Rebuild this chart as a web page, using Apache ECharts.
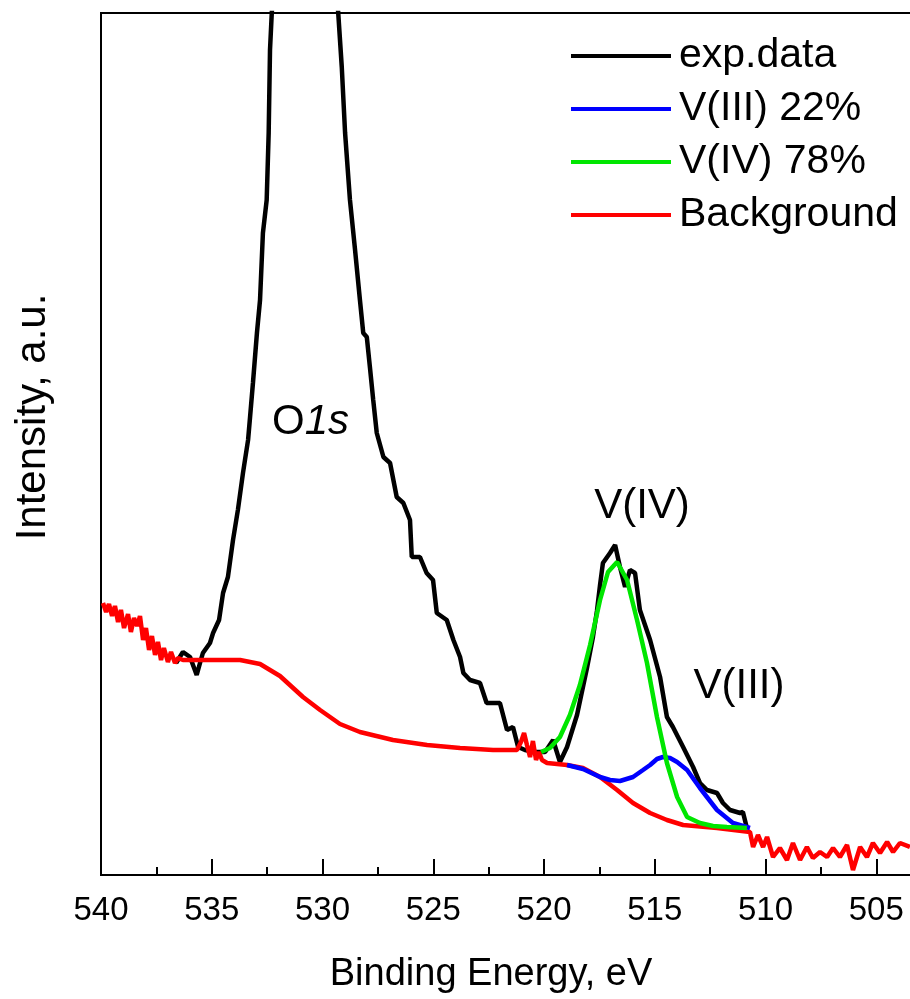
<!DOCTYPE html>
<html>
<head>
<meta charset="utf-8">
<title>V 2p / O 1s XPS</title>
<script src="https://cdn.jsdelivr.net/npm/echarts@6/dist/echarts.min.js"></script>
<style>
  html, body { margin: 0; padding: 0; background: #fff; }
  #chart { width: 910px; height: 999px; }
</style>
</head>
<body>
<div id="chart"></div>
<script>
// [binding energy eV, intensity a.u.]
const expData = [
  [536.61, 212], [536.30, 223], [535.98, 218], [535.68, 200], [535.53, 212], [535.40, 222],
  [535.08, 232], [534.94, 242], [534.67, 255], [534.49, 282], [534.27, 298], [534.04, 335],
  [533.82, 365], [533.59, 402], [533.50, 415], [533.36, 435], [533.27, 458], [533.14, 492],
  [532.96, 542], [532.82, 575], [532.69, 642], [532.52, 675], [532.43, 742], [532.37, 825],
  [532.29, 862], [532.01, 960], [531.47, 1040], [530.79, 1080], [530.11, 1040], [529.57, 950],
  [529.29, 862], [529.13, 808], [528.98, 742], [528.76, 675], [528.53, 625], [528.31, 575],
  [528.16, 542], [528.00, 538], [527.86, 508], [527.71, 475], [527.55, 442], [527.25, 418],
  [526.95, 412], [526.65, 378], [526.35, 372], [526.05, 355], [525.97, 318], [525.60, 318],
  [525.30, 302], [525.01, 295], [524.84, 262], [524.39, 255], [524.09, 235], [523.79, 218],
  [523.64, 202], [523.34, 195], [522.89, 192], [522.59, 172], [522.30, 172], [521.99, 172],
  [521.67, 145], [521.40, 148], [521.17, 128], [520.86, 125], [520.41, 123], [519.95, 123],
  [519.59, 135], [519.28, 113], [518.96, 128], [518.51, 160], [518.06, 207], [517.79, 238],
  [517.61, 264], [517.47, 290], [517.34, 312], [517.02, 322], [516.79, 330], [516.57, 308],
  [516.34, 288], [516.12, 305], [515.89, 302], [515.67, 265], [515.21, 235], [514.76, 198],
  [514.45, 158], [514.18, 148], [513.72, 128], [513.27, 108], [512.96, 92], [512.64, 85],
  [512.19, 82], [511.92, 72], [511.60, 65], [511.15, 62], [511.02, 63], [510.84, 47]
];

const backgroundData = [
  [539.91, 272], [539.77, 263], [539.64, 271], [539.50, 259], [539.37, 269], [539.23, 253],
  [539.10, 265], [538.96, 247], [538.78, 261], [538.65, 243], [538.51, 257], [538.37, 249],
  [538.24, 259], [538.10, 235], [537.97, 247], [537.83, 225], [537.70, 239], [537.56, 220],
  [537.43, 233], [537.29, 215], [537.16, 227], [536.98, 213], [536.84, 223], [536.66, 212],
  [536.52, 217], [536.30, 215], [535.53, 215], [534.63, 215], [533.72, 215], [532.82, 211],
  [531.92, 199], [530.88, 178], [530.11, 165], [529.21, 151], [528.31, 143], [526.82, 135],
  [525.28, 130], [523.79, 127], [522.30, 125], [521.22, 125], [521.04, 133], [520.90, 142],
  [520.77, 130], [520.63, 118], [520.50, 134], [520.36, 115], [520.23, 123], [520.09, 115],
  [519.86, 112], [518.96, 110], [518.24, 107], [517.47, 98], [516.70, 85], [515.98, 72],
  [515.21, 62], [514.45, 55], [513.72, 50], [512.19, 47], [510.70, 43], [510.56, 28],
  [510.34, 40], [510.11, 28], [509.93, 38], [509.66, 18], [509.35, 27], [509.03, 15],
  [508.76, 32], [508.44, 15], [508.13, 28], [507.86, 17], [507.54, 23], [507.22, 18],
  [506.95, 27], [506.64, 18], [506.32, 30], [506.05, 5], [505.73, 28], [505.42, 18],
  [505.15, 32], [504.83, 22], [504.51, 33], [504.24, 23], [503.93, 32], [503.48, 28]
];

const v3Data = [
  [518.96, 110], [518.24, 106], [517.47, 98], [517.02, 95], [516.57, 94], [515.98, 98],
  [515.53, 105], [515.21, 110], [514.90, 116], [514.63, 118], [514.31, 117], [513.99, 113],
  [513.54, 105], [512.96, 87], [512.19, 65], [511.47, 52], [510.70, 47]
];

const v4Data = [
  [520.13, 123], [519.73, 127], [519.28, 138], [518.83, 160], [518.38, 190], [517.92, 230],
  [517.47, 275], [517.11, 303], [516.70, 313], [516.25, 295], [515.80, 255], [515.35, 212],
  [514.90, 158], [514.45, 112], [513.99, 78], [513.54, 58], [512.96, 52], [512.37, 49],
  [511.74, 48], [510.84, 47]
];

const legendNames = ["exp.data", "V(III) 22%", "V(IV) 78%", "Background"];

const font = "'Liberation Sans', Arial, sans-serif";
const chart = echarts.init(document.getElementById("chart"), null, { renderer: "canvas" });

function lineSeries(name, data, color) {
  return {
    name: name,
    type: "line",
    data: data,
    symbol: "none",
    clip: true,
    lineStyle: { color: color, width: 4.5 },
    itemStyle: { color: color }
  };
}

// plot box runs past the right edge of the window, like the cropped original
chart.setOption({
  animation: false,
  backgroundColor: "#fff",
  grid: {
    left: 101, right: -77, top: 13, bottom: 124,
    outerBoundsMode: "none",
    containLabel: false,
    show: true, borderColor: "#000", borderWidth: 2
  },
  legend: {
    data: legendNames,
    orient: "vertical",
    left: 566, top: 30,
    icon: "rect",
    itemWidth: 100, itemHeight: 4, itemGap: 11,
    textStyle: { fontFamily: font, fontSize: 41, color: "#000", lineHeight: 42, padding: [0, 0, 0, 3] },
    selectedMode: false
  },
  xAxis: {
    type: "value",
    min: 500, max: 540, interval: 5, inverse: true,
    axisLine: { show: true, lineStyle: { color: "#000", width: 2 } },
    axisTick: { show: true, inside: true, length: 16, lineStyle: { color: "#000", width: 2 } },
    minorTick: { show: true, splitNumber: 2, length: 8, lineStyle: { color: "#000", width: 2 } },
    axisLabel: { fontFamily: font, fontSize: 33, color: "#000", margin: 19 },
    splitLine: { show: false }
  },
  yAxis: {
    type: "value",
    min: 0, max: 862,
    axisLine: { show: true, lineStyle: { color: "#000", width: 2 } },
    axisTick: { show: false },
    axisLabel: { show: false },
    splitLine: { show: false }
  },
  series: [
    lineSeries("exp.data", expData, "#000000"),
    lineSeries("Background", backgroundData, "#ff0000"),
    lineSeries("V(III) 22%", v3Data, "#0000ff"),
    lineSeries("V(IV) 78%", v4Data, "#00e600")
  ],
  graphic: [
    {
      type: "text", x: 491, y: 975,
      style: {
        text: "Binding Energy, eV", fontFamily: font, fontSize: 38, fill: "#000",
        align: "center", verticalAlign: "middle"
      }
    },
    {
      type: "text", x: 33, y: 417, rotation: Math.PI / 2,
      style: {
        text: "Intensity, a.u.", fontFamily: font, fontSize: 42, fill: "#000",
        align: "center", verticalAlign: "middle"
      }
    },
    {
      type: "text", x: 272, y: 422,
      style: {
        text: "{a|O}{b|1s}", fill: "#000", verticalAlign: "middle",
        rich: {
          a: { fontFamily: font, fontSize: 42, fill: "#000" },
          b: { fontFamily: font, fontSize: 42, fill: "#000", fontStyle: "italic" }
        }
      }
    },
    {
      type: "text", x: 642, y: 506,
      style: { text: "V(IV)", fontFamily: font, fontSize: 42, fill: "#000", align: "center", verticalAlign: "middle" }
    },
    {
      type: "text", x: 739, y: 686,
      style: { text: "V(III)", fontFamily: font, fontSize: 42, fill: "#000", align: "center", verticalAlign: "middle" }
    }
  ]
});
</script>
</body>
</html>
